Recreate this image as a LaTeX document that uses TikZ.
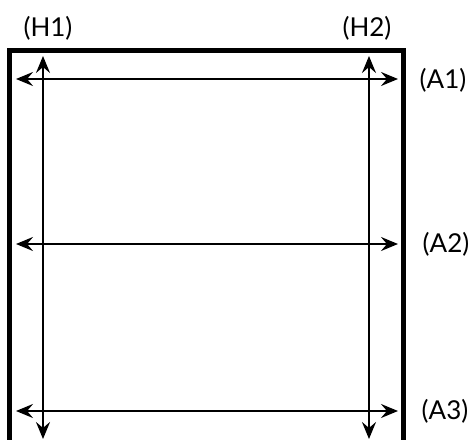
\documentclass[tikz,border=0pt]{standalone}
\usepackage{fontspec}
\setmainfont{Lato}
\usetikzlibrary{arrows.meta}
\begin{document}
\begin{tikzpicture}[x=1pt,y=-1pt,
  frame/.style={line width=5pt},
  dim/.style={line width=2.2pt,{Stealth[length=17pt,width=14pt,inset=6pt]}-{Stealth[length=17pt,width=14pt,inset=6pt]}},
  lab/.style={font=\fontsize{26}{30}\selectfont,inner sep=0pt}]
\useasboundingbox (0,0) rectangle (475,440);
\clip (0,0) rectangle (475,440);
% frame
\coordinate (FL) at (9.5,445);
\coordinate (FTL) at (9.5,50.5);
\coordinate (FTR) at (403,50.5);
\coordinate (FR) at (403,445);
\draw[frame] (FL) -- (FTL) -- (FTR) -- (FR);
% vertical arrows
\coordinate (H1t) at (43,56);
\coordinate (H1b) at (43,439);
\coordinate (H2t) at (369,56);
\coordinate (H2b) at (369,439);
\draw[dim] (H1b) -- (H1t);
\draw[dim] (H2b) -- (H2t);
% horizontal arrows
\coordinate (A1l) at (16,79);
\coordinate (A1r) at (398,79);
\coordinate (A2l) at (16,244);
\coordinate (A2r) at (398,244);
\coordinate (A3l) at (16,411);
\coordinate (A3r) at (398,411);
\draw[dim] (A1l) -- (A1r);
\draw[dim] (A2l) -- (A2r);
\draw[dim] (A3l) -- (A3r);
% labels
\node[lab] (h1) at (48,28) {(H1)};
\node[lab] (h2) at (367,28) {(H2)};
\node[lab] (a1) at (443,80) {(A1)};
\node[lab] (a2) at (446,244) {(A2)};
\node[lab] (a3) at (445,411) {(A3)};
\end{tikzpicture}
\end{document}
